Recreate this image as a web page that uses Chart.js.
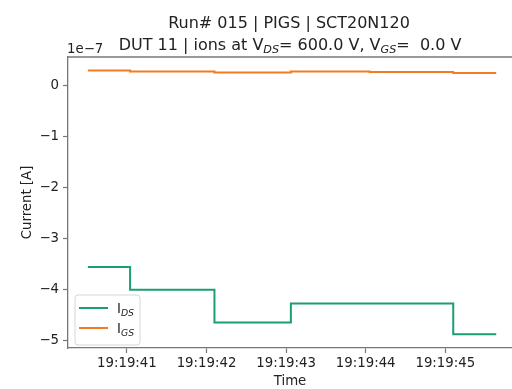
<!DOCTYPE html>
<html>
<head>
<meta charset="utf-8">
<script src="https://cdn.jsdelivr.net/npm/chart.js@4.4.1/dist/chart.umd.min.js"></script>
<style>
  html, body { margin: 0; padding: 0; background: #fff; overflow: hidden; }
  /* the original figure is cut on the right, so the plot runs past the window edge */
  #wrap { width: 540px; height: 389px; }
</style>
</head>
<body>
<div id="wrap"><canvas id="chart"></canvas></div>
<script>
// sample times, seconds after 19:19:00
const timeSec = [40.51, 41.04, 42.10, 43.06, 44.05, 45.10, 45.64];
// currents [A]
const iDS = [-3.55e-7, -4.00e-7, -4.64e-7, -4.27e-7, -4.27e-7, -4.87e-7, -4.87e-7];
const iGS = [0.30e-7, 0.28e-7, 0.26e-7, 0.28e-7, 0.27e-7, 0.25e-7, 0.25e-7];
// tick positions
const xTicks = [41, 42, 43, 44, 45];
const yTicks = [0, -1e-7, -2e-7, -3e-7, -4e-7, -5e-7];

const colors = { ids: "#1b9e77", igs: "#f47b20", spine: "#777", text: "#222" };
const FONT = "'DejaVu Sans', sans-serif";

const toPoints = (xs, ys) => xs.map((x, i) => ({ x: x, y: ys[i] }));
const pad2 = n => String(n).padStart(2, "0");

// text with matplotlib-like subscripts: parts = [[text, isSub], ...]
function drawRich(ctx, parts, x, y, size, align) {
  const subSize = size * 0.7;
  const widths = parts.map(([t, sub]) => {
    ctx.font = sub ? `italic ${subSize}px ${FONT}` : `${size}px ${FONT}`;
    return ctx.measureText(t).width;
  });
  const total = widths.reduce((a, b) => a + b, 0);
  let cx = align === "center" ? x - total / 2 : x;
  ctx.textAlign = "left";
  ctx.textBaseline = "alphabetic";
  parts.forEach(([t, sub], i) => {
    ctx.font = sub ? `italic ${subSize}px ${FONT}` : `${size}px ${FONT}`;
    ctx.fillText(t, cx, sub ? y + size * 0.2 : y);
    cx += widths[i];
  });
}

const decorPlugin = {
  id: "decor",
  afterDraw(chart) {
    const { ctx, chartArea } = chart;
    ctx.save();
    ctx.fillStyle = colors.text;
    // title
    drawRich(ctx, [["Run# 015 | PIGS | SCT20N120", false]], 289, 28, 16, "center");
    drawRich(ctx, [["DUT 11 | ions at V", false], ["DS", true], ["= 600.0 V, V", false], ["GS", true], ["=  0.0 V", false]], 290, 50, 16, "center");
    // offset text
    drawRich(ctx, [["1e\u22127", false]], 67, 53, 13.3, "left");

    // top spine
    ctx.strokeStyle = colors.spine;
    ctx.lineWidth = 1.3;
    ctx.beginPath();
    ctx.moveTo(chartArea.left, chartArea.top);
    ctx.lineTo(chartArea.right, chartArea.top);
    ctx.stroke();

    // legend
    const lx = 75, ly = 295, lw = 65, lh = 50;
    ctx.beginPath();
    ctx.roundRect(lx, ly, lw, lh, 3);
    ctx.fillStyle = "rgba(255,255,255,0.8)";
    ctx.fill();
    ctx.strokeStyle = "#d6d6d6";
    ctx.lineWidth = 1;
    ctx.stroke();
    const items = [[colors.ids, "DS"], [colors.igs, "GS"]];
    items.forEach(([c, sub], i) => {
      const yy = 308 + i * 20;
      ctx.strokeStyle = c;
      ctx.lineWidth = 2;
      ctx.beginPath();
      ctx.moveTo(79, yy);
      ctx.lineTo(108, yy);
      ctx.stroke();
      ctx.fillStyle = colors.text;
      drawRich(ctx, [["I", false], [sub, true]], 117, yy + 5, 13.3, "left");
    });
    ctx.restore();
  }
};

new Chart(document.getElementById("chart"), {
  type: "line",
  data: {
    datasets: [
      {
        label: "I_DS",
        data: toPoints(timeSec, iDS),
        borderColor: colors.ids,
        borderWidth: 2,
        pointRadius: 0,
        stepped: true,
        fill: false,
      },
      {
        label: "I_GS",
        data: toPoints(timeSec, iGS),
        borderColor: colors.igs,
        borderWidth: 2,
        pointRadius: 0,
        stepped: true,
        fill: false,
      },
    ],
  },
  options: {
    responsive: true,
    maintainAspectRatio: false,
    animation: false,
    layout: { autoPadding: false, padding: { top: 57, left: 0, right: 0, bottom: 0 } },
    plugins: { legend: { display: false }, tooltip: { enabled: false } },
    scales: {
      x: {
        type: "linear",
        min: 40.26,
        max: 46.19,
        afterFit: s => { s.height = 41; },
        afterBuildTicks: s => { s.ticks = xTicks.map(v => ({ value: v })); },
        grid: { drawOnChartArea: false, drawTicks: true, tickLength: 5, tickColor: colors.spine, tickWidth: 1.2 },
        border: { display: true, color: colors.spine, width: 1.3 },
        ticks: {
          color: colors.text,
          padding: 3,
          maxRotation: 0,
          font: { family: FONT, size: 13.3 },
          callback: v => "19:19:" + pad2(Math.round(v)),
        },
        title: { display: false },
      },
      y: {
        type: "linear",
        min: -5.14e-7,
        max: 0.565e-7,
        afterFit: s => { s.width = 68; },
        afterBuildTicks: s => { s.ticks = yTicks.map(v => ({ value: v })); },
        grid: { drawOnChartArea: false, drawTicks: true, tickLength: 5, tickColor: colors.spine, tickWidth: 1.2 },
        border: { display: true, color: colors.spine, width: 1.3 },
        ticks: {
          color: colors.text,
          padding: 4,
          font: { family: FONT, size: 13.3 },
          callback: v => {
            const n = Math.round(v / 1e-7);
            return n < 0 ? "\u2212" + Math.abs(n) : String(n);
          },
        },
        title: { display: true, text: "Current [A]", color: colors.text, font: { family: FONT, size: 13.3 }, padding: { top: 20, bottom: 0 } },
      },
    },
  },
  plugins: [decorPlugin, {
    id: "xTitle",
    afterDraw(chart) {
      // x axis title centred under the visible part of the axis, like the original
      const ctx = chart.ctx;
      ctx.save();
      ctx.fillStyle = colors.text;
      ctx.font = `13.3px ${FONT}`;
      ctx.textAlign = "center";
      ctx.textBaseline = "middle";
      ctx.fillText("Time", 290, 382);
      ctx.restore();
    }
  }],
});
</script>
</body>
</html>
